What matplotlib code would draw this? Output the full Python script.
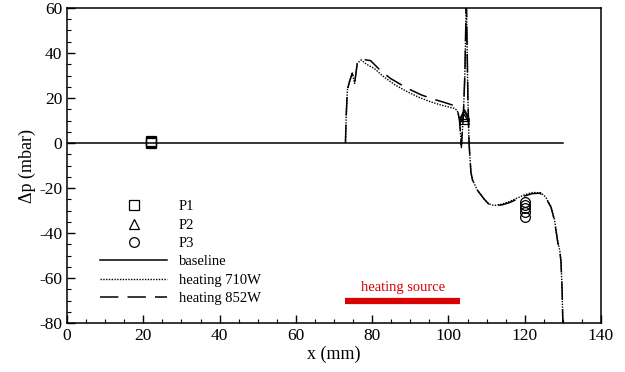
import numpy as np
import matplotlib.pyplot as plt

plt.rcParams['font.family'] = ['Liberation Serif', 'DejaVu Serif']
plt.rcParams['axes.unicode_minus'] = False

# baseline (no heating)
x_base = [0, 130]
y_base = [0, 0]

# heating 710W
x710 = [73.0, 73.2, 73.5, 74.0, 74.8, 75.4, 76.1, 77.1, 78.5, 80.5, 83.0, 86.0, 89.2,
        92.0, 95.0, 98.0, 101.5, 102.3, 102.9, 103.4, 103.9, 104.3, 104.7, 105.1, 105.4,
        105.9, 106.3, 107.6, 109.4, 110.5, 112.0, 114.0, 116.0, 118.0, 120.0, 122.0,
        124.2, 125.5, 126.9, 127.8, 128.6, 129.2, 129.5, 129.8, 130.0]
y710 = [0, 12, 23.5, 27, 31, 26.5, 35.4, 36.9, 35, 33.2, 29.5, 25.8, 22.8,
        20.5, 18.5, 16.9, 15.4, 14.5, 11, -2.3, 12, 30, 65, 20, 0,
        -13, -16.4, -21, -25, -27, -27.8, -27.2, -26, -24.5, -23, -22,
        -22.1, -24, -28.3, -34, -43, -48, -52, -65, -80]

# heating 852W
x852 = [73.0, 73.2, 73.5, 74.0, 74.8, 75.4, 76.1, 77.4, 79.6, 82.0, 84.8, 87.5, 90.1,
        93.0, 96.2, 99.0, 101.0, 101.8, 102.4, 102.9, 103.4, 103.9, 104.3, 104.7, 105.1,
        105.4, 105.9, 106.3, 107.6, 109.4, 110.5, 112.0, 114.0, 116.0, 118.0, 120.0,
        122.0, 124.0, 125.5, 126.9, 127.8, 128.6, 129.2, 129.5, 129.8, 130.0]
y852 = [0, 12, 23.5, 27, 31, 26.5, 35.4, 37.2, 36.6, 32.5, 28.7, 26, 23.6,
        21.3, 19.4, 18, 16.9, 16, 14.7, 10, -1, 12, 30, 65, 20,
        0, -13, -16.4, -21, -25, -27, -27.8, -27.5, -26.5, -25, -23.5,
        -22.5, -22.3, -24.5, -28.5, -34.5, -43.5, -48.5, -52.5, -65, -80]

# probe measurements
p1_x = [22, 22, 22]
p1_y = [0.0, 0.5, 1.0]
p2_x = [104, 104, 104]
p2_y = [10.5, 12.0, 13.0]
p3_x = [120, 120, 120, 120, 120]
p3_y = [-26.0, -27.5, -29.0, -30.5, -33.0]

heater_x = [73, 103]
heater_y = -70

fig = plt.figure(figsize=(6.25, 3.72), dpi=100)
ax = fig.add_axes([0.1072, 0.1317, 0.8544, 0.8468])

ms = 7
ax.plot(p1_x, p1_y, 's', mfc='none', mec='k', ms=ms, mew=0.9, label='P1')
ax.plot(p2_x, p2_y, '^', mfc='none', mec='k', ms=ms, mew=0.9, label='P2')
ax.plot(p3_x, p3_y, 'o', mfc='none', mec='k', ms=ms, mew=0.9, label='P3')
ax.plot(x_base, y_base, '-', color='k', lw=1.1, label='baseline')
ax.plot(x710, y710, color='k', lw=1.0, ls=(0, (1, 1)), label='heating 710W')
ax.plot(x852, y852, color='k', lw=1.1, ls=(0, (12, 6)), label='heating 852W')

ax.plot(heater_x, [heater_y, heater_y], color='#d80000', lw=4.5, solid_capstyle='butt')
ax.text(np.mean(heater_x), -64, 'heating source', color='#d80000', fontsize=10.5,
        ha='center', va='center')

ax.set_xlim(0, 140)
ax.set_ylim(-80, 60)
ax.set_xticks(np.arange(0, 141, 20))
ax.set_yticks(np.arange(-80, 61, 20))
ax.set_xticks(np.arange(0, 141, 5), minor=True)
ax.set_yticks(np.arange(-80, 61, 5), minor=True)
ax.tick_params(direction='in', which='major', length=6, width=1, labelsize=12.5,
               top=False, right=False)
ax.tick_params(direction='in', which='minor', length=3, width=0.8,
               top=False, right=False)
for s in ax.spines.values():
    s.set_linewidth(1.1)

ax.set_xlabel('x (mm)', fontsize=13, labelpad=1)
ax.set_ylabel('Δp (mbar)', fontsize=13, labelpad=2)

ax.legend(loc='upper left', bbox_to_anchor=(0.062, 0.39), frameon=False,
          fontsize=10.5, handlelength=4.6, handletextpad=0.8, labelspacing=0.35,
          borderpad=0, borderaxespad=0, numpoints=1)

fig.savefig('out.png', dpi=100)
